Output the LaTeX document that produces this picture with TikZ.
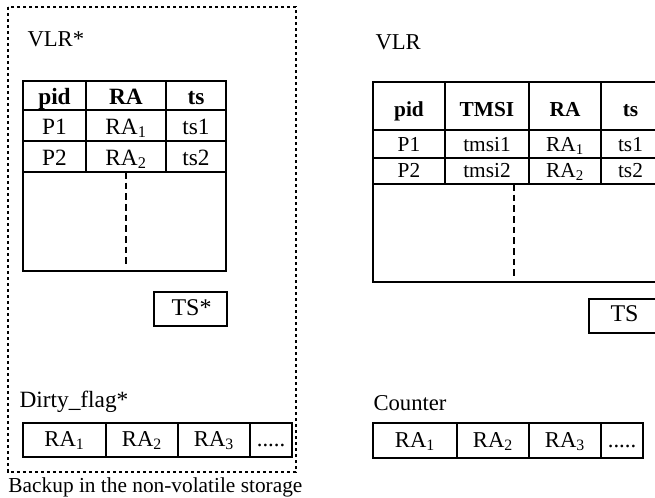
\documentclass[tikz,border=0pt]{standalone}
\usepackage{fontspec}
\setmainfont{Liberation Serif}

\tikzset{every picture/.style={line width=0.75pt}}

\begin{document}
\begin{tikzpicture}[x=0.75pt,y=0.75pt,yscale=-1,xscale=1,
  grid/.style={line width=1pt},
  backupline/.style={line width=1.1pt, dash pattern=on 2.6pt off 1.9pt},
  gapline/.style={line width=1pt, dash pattern=on 5pt off 3pt},
  label/.style={anchor=base west, inner sep=0pt, font=\fontsize{17}{20}\selectfont},
  lcell/.style={anchor=base, inner sep=0pt, font=\fontsize{17.5}{20}\selectfont},
  rcell/.style={anchor=base, inner sep=0pt, font=\fontsize{16}{19}\selectfont},
  acell/.style={anchor=base, inner sep=0pt, font=\fontsize{17}{20}\selectfont}]
\useasboundingbox (0,0) rectangle (655,497);
\clip (0,0) rectangle (655,497);

%Dashed frame [backup]
\draw [backupline] (8,7) rectangle (296,472);

%Left table [VLR*]
\draw [grid] (23,81) rectangle (226,271);
\draw [grid] (23,110) -- (226,110);
\draw [grid] (23,141) -- (226,141);
\draw [grid] (23,172) -- (226,172);
\draw [grid] (86,81) -- (86,172);
\draw [grid] (166,81) -- (166,172);
\draw [gapline] (126,172) -- (126,264);

%TS* box
\draw [grid] (154,292) rectangle (227,326);

%Dirty flag array
\draw [grid] (23,423) rectangle (292,457);
\draw [grid] (106,423) -- (106,457);
\draw [grid] (178,423) -- (178,457);
\draw [grid] (250,423) -- (250,457);

%Right table [VLR]
\draw [grid] (373,82) rectangle (662,282);
\draw [grid] (373,130) -- (662,130);
\draw [grid] (373,158) -- (662,158);
\draw [grid] (373,184) -- (662,184);
\draw [grid] (445,82) -- (445,184);
\draw [grid] (529,82) -- (529,184);
\draw [grid] (601,82) -- (601,184);
\draw [gapline] (514,184) -- (514,277);

%TS box
\draw [grid] (589,299) rectangle (662,333);

%Counter array
\draw [grid] (373,423) rectangle (643,458);
\draw [grid] (457,423) -- (457,458);
\draw [grid] (529,423) -- (529,458);
\draw [grid] (601,423) -- (601,458);

% Text Nodes, left side
\node [label] (vlrstar) at (27,46) {VLR*};
\node [lcell] (lhpid) at (54.5,104.5) {\textbf{pid}};
\node [lcell] (lhra) at (126,104.5) {\textbf{RA}};
\node [lcell] (lhts) at (196,104.5) {\textbf{ts}};
\node [lcell] (lpa) at (54.5,134.5) {P1};
\node [lcell] (lraa) at (126,134.5) {RA\textsubscript{1}};
\node [lcell] (ltsa) at (196,134.5) {ts1};
\node [lcell] (lpb) at (54.5,165) {P2};
\node [lcell] (lrab) at (126,165) {RA\textsubscript{2}};
\node [lcell] (ltsb) at (196,165) {ts2};
\node [label, font=\fontsize{18}{21}\selectfont] (tsstar) at (171,315) {TS*};
\node [label, font=\fontsize{17.5}{20}\selectfont] (dirty) at (19,407) {Dirty\_flag*};
\node [acell] (dra) at (64.5,446) {RA\textsubscript{1}};
\node [acell] (drb) at (142,446) {RA\textsubscript{2}};
\node [acell] (drc) at (214,446) {RA\textsubscript{3}};
\node [acell] (drdots) at (271,446) {.....};
\node [anchor=base west, inner sep=0pt, font=\fontsize{16}{19}\selectfont] (backup) at (8,492.5) {Backup in the non-volatile storage};

% Text Nodes, right side
\node [label] (vlr) at (375,49) {VLR};
\node [rcell] (rhpid) at (409,116) {\textbf{pid}};
\node [rcell] (rhtmsi) at (487,116) {\textbf{TMSI}};
\node [rcell] (rhra) at (565,116) {\textbf{RA}};
\node [rcell] (rhts) at (630.5,116) {\textbf{ts}};
\node [rcell] (rpa) at (409,151) {P1};
\node [rcell] (rtma) at (487,151) {tmsi1};
\node [rcell] (rraa) at (565,151) {RA\textsubscript{1}};
\node [rcell] (rtsa) at (630.5,151) {ts1};
\node [rcell] (rpb) at (409,177) {P2};
\node [rcell] (rtmb) at (487,177) {tmsi2};
\node [rcell] (rrab) at (565,177) {RA\textsubscript{2}};
\node [rcell] (rtsb) at (630.5,177) {ts2};
\node [label, font=\fontsize{18}{21}\selectfont] (ts) at (610,321.5) {TS};
\node [label] (counter) at (373,410.5) {Counter};
\node [acell] (cra) at (415,447) {RA\textsubscript{1}};
\node [acell] (crb) at (493,447) {RA\textsubscript{2}};
\node [acell] (crc) at (565,447) {RA\textsubscript{3}};
\node [acell] (cdots) at (622,447) {.....};

\end{tikzpicture}
\end{document}
